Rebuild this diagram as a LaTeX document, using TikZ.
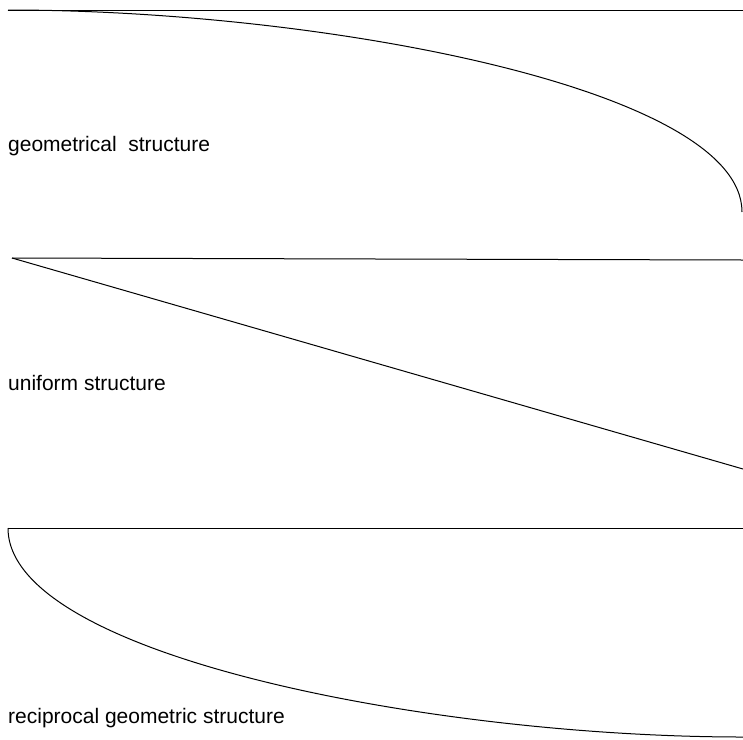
\documentclass[tikz,border=0pt]{standalone}
\usepackage{fontspec}
\setmainfont{Liberation Sans}
\begin{document}
\begin{tikzpicture}[x=1pt,y=-1pt,
  ln/.style={line width=1pt},
  lbl/.style={anchor=base west,inner sep=0pt,font=\fontsize{21}{24}\selectfont}]
\useasboundingbox (0,0) rectangle (743,739);
% panel 1
\coordinate (a1) at (8,10);
\coordinate (a2) at (743,10);
\coordinate (a3) at (742,212);
\draw[ln] (a1) -- (a2);
\draw[ln] (a1) .. controls (320,10) and (742,88) .. (a3);
\node[lbl] (t1) at (8,151) {geometrical\ \ structure};
% panel 2
\coordinate (b1) at (12,258);
\coordinate (b2) at (743,260);
\coordinate (b3) at (743,469);
\draw[ln] (b1) -- (b2);
\draw[ln] (b1) -- (b3);
\node[lbl] (t2) at (8,390) {uniform structure};
% panel 3
\coordinate (c1) at (8,528);
\coordinate (c2) at (743,528);
\coordinate (c3) at (743,737);
\draw[ln] (c1) -- (c2);
\draw[ln] (c1) .. controls (8,656) and (434,737) .. (c3);
\node[lbl] (t3) at (8,723) {reciprocal geometric structure};
\end{tikzpicture}
\end{document}
